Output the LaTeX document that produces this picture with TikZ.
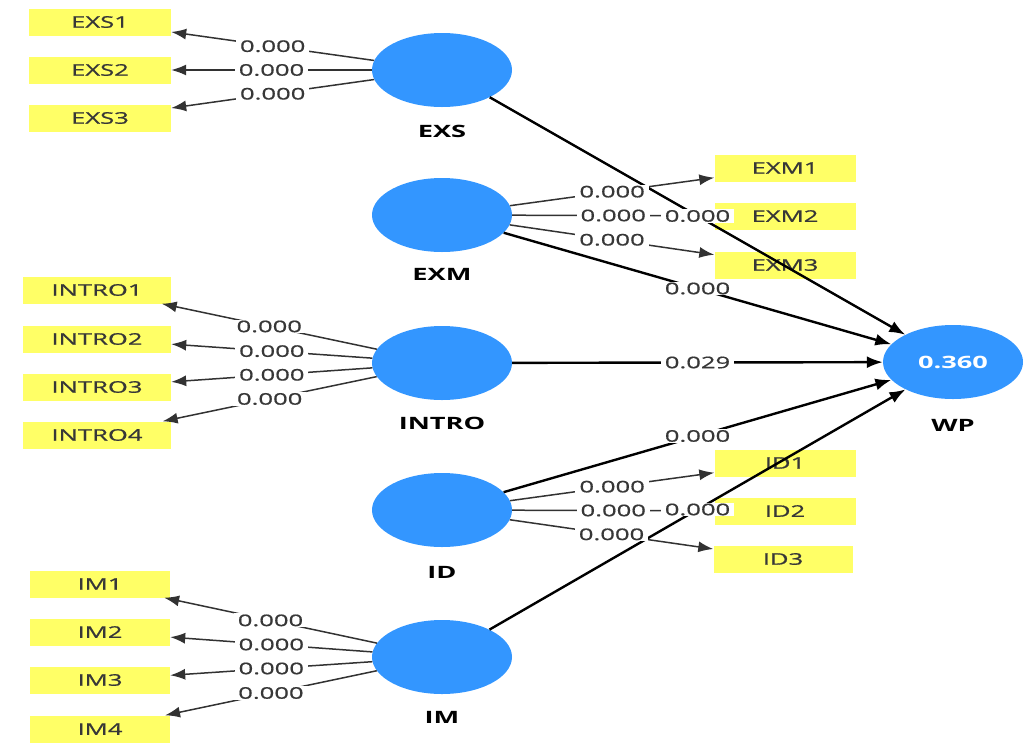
\documentclass[tikz,border=0pt]{standalone}
\usepackage{fontspec}
\setmainfont{Open Sans}[FakeStretch=1.6]
\newfontfamily\labfont{Open Sans}[FakeStretch=1.6, FakeBold=0.8]
\usetikzlibrary{arrows.meta,shapes.geometric}
\definecolor{latblue}{RGB}{51,150,255}
\definecolor{indyellow}{RGB}{255,255,102}
\definecolor{txtgray}{RGB}{55,55,55}
\definecolor{linegray}{RGB}{50,50,50}
\newcommand{\fsz}{\fontsize{16pt}{19pt}\selectfont}
\newcommand{\fszb}{\fontsize{17pt}{20pt}\selectfont}
\begin{document}
\begin{tikzpicture}[x=1pt,y=-1pt,
  lat/.style={ellipse, fill=latblue, minimum width=140pt, minimum height=74pt, inner sep=0pt, text=white, font=\fszb\bfseries},
  latname/.style={font=\fszb\bfseries, text=black, inner sep=0pt},
  ind/.style={fill=indyellow, minimum height=27pt, inner sep=0pt, text=txtgray, font=\labfont\fsz},
  load/.style={draw=linegray, line width=1.5pt, -{Latex[length=15pt,width=11pt]}},
  struct/.style={draw=black, line width=2.4pt, -{Latex[length=16pt,width=12pt]}},
  lbl/.style={fill=white, inner xsep=4pt, inner ysep=1pt, text=txtgray, font=\labfont\fsz}]
\useasboundingbox (0,0) rectangle (1033,750);
% indicators left
\node[ind, minimum width=142pt] (EXS1) at (100,22) {EXS1};
\node[ind, minimum width=142pt] (EXS2) at (100,70) {EXS2};
\node[ind, minimum width=142pt] (EXS3) at (100,118) {EXS3};
\node[ind, minimum width=148pt] (INTRO1) at (97,290) {INTRO1};
\node[ind, minimum width=148pt] (INTRO2) at (97,339) {INTRO2};
\node[ind, minimum width=148pt] (INTRO3) at (97,387) {INTRO3};
\node[ind, minimum width=148pt] (INTRO4) at (97,435) {INTRO4};
\node[ind, minimum width=140pt] (IM1) at (100,584) {IM1};
\node[ind, minimum width=140pt] (IM2) at (100,632) {IM2};
\node[ind, minimum width=140pt] (IM3) at (100,680) {IM3};
\node[ind, minimum width=140pt] (IM4) at (100,729) {IM4};
% indicators right
\node[ind, minimum width=141pt] (EXM1) at (785,168) {EXM1};
\node[ind, minimum width=141pt] (EXM2) at (785,216) {EXM2};
\node[ind, minimum width=141pt] (EXM3) at (785,265) {EXM3};
\node[ind, minimum width=141pt] (ID1) at (785,463) {ID1};
\node[ind, minimum width=141pt] (ID2) at (785,511) {ID2};
\node[ind, minimum width=139pt] (ID3) at (783,559) {ID3};
% latent variables
\node[lat] (EXS) at (442,70) {};
\node[lat] (EXM) at (442,215) {};
\node[lat] (INTRO) at (442,363) {};
\node[lat] (ID) at (442,510) {};
\node[lat] (IM) at (442,657) {};
\node[lat] (WP) at (953,362) {0.360};
\node[latname] (nEXS) at (442,131) {EXS};
\node[latname] (nEXM) at (442,274) {EXM};
\node[latname] (nINTRO) at (442,423) {INTRO};
\node[latname] (nID) at (442,572) {ID};
\node[latname] (nIM) at (442,717) {IM};
\node[latname] (nWP) at (953,425) {WP};
% loadings
\foreach \l/\i in {EXS/EXS1,EXS/EXS2,EXS/EXS3,INTRO/INTRO1,INTRO/INTRO2,INTRO/INTRO3,INTRO/INTRO4,IM/IM1,IM/IM2,IM/IM3,IM/IM4,EXM/EXM1,EXM/EXM2,EXM/EXM3,ID/ID1,ID/ID2,ID/ID3}
  \draw[load] (\l) -- (\i);
% structural paths
\foreach \l in {EXS,EXM,INTRO,ID,IM}
  \draw[struct] (\l) -- (WP);
% labels on top
\foreach \l/\i in {EXS/EXS1,EXS/EXS2,EXS/EXS3,INTRO/INTRO1,INTRO/INTRO2,INTRO/INTRO3,INTRO/INTRO4,IM/IM1,IM/IM2,IM/IM3,IM/IM4,EXM/EXM1,EXM/EXM2,EXM/EXM3,ID/ID1,ID/ID2,ID/ID3}
  \path (\l) -- node[lbl] (L\i) {0.000} (\i);
\path (EXS) -- node[lbl] (sEXS) {0.000} (WP);
\path (EXM) -- node[lbl] (sEXM) {0.000} (WP);
\path (INTRO) -- node[lbl] (sINTRO) {0.029} (WP);
\path (ID) -- node[lbl] (sID) {0.000} (WP);
\path (IM) -- node[lbl] (sIM) {0.000} (WP);
\end{tikzpicture}
\end{document}
